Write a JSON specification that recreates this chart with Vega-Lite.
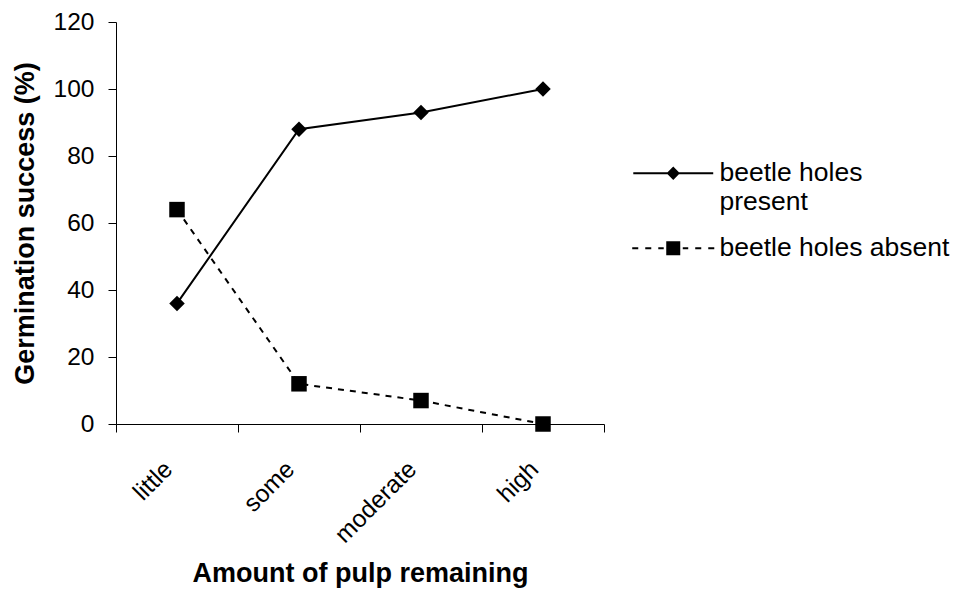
{
  "$schema": "https://vega.github.io/schema/vega-lite/v6.json",
  "width": 488,
  "height": 402,
  "autosize": {"type": "none"},
  "padding": {"left": 116, "top": 22, "right": 357, "bottom": 177},
  "background": "white",
  "config": {
    "view": {"stroke": null},
    "font": "Liberation Sans",
    "axis": {"domainColor": "#000000", "tickColor": "#000000", "labelColor": "#000000", "titleColor": "#000000", "grid": false}
  },
  "data": {
    "values": [
      {"pulp": "little", "series": "beetle holes present", "germ": 36},
      {"pulp": "some", "series": "beetle holes present", "germ": 88},
      {"pulp": "moderate", "series": "beetle holes present", "germ": 93},
      {"pulp": "high", "series": "beetle holes present", "germ": 100},
      {"pulp": "little", "series": "beetle holes absent", "germ": 64},
      {"pulp": "some", "series": "beetle holes absent", "germ": 12},
      {"pulp": "moderate", "series": "beetle holes absent", "germ": 7},
      {"pulp": "high", "series": "beetle holes absent", "germ": 0}
    ]
  },
  "encoding": {
    "x": {
      "field": "pulp", "type": "ordinal", "bandPosition": 0.5,
      "sort": ["little", "some", "moderate", "high"],
      "scale": {"type": "band", "paddingInner": 0, "paddingOuter": 0},
      "axis": {
        "title": "Amount of pulp remaining",
        "tickBand": "extent",
        "tickSize": 8,
        "labelAngle": -45,
        "labelAlign": "right",
        "labelBaseline": "top",
        "labelFontSize": 24.5,
        "labelPadding": 25,
        "labelOffset": -17,
        "titleFontSize": 27,
        "titleFontWeight": "bold",
        "titlePadding": 14
      }
    },
    "y": {
      "field": "germ", "type": "quantitative",
      "scale": {"domain": [0, 120], "nice": false},
      "axis": {
        "title": "Germination success (%)",
        "values": [0, 20, 40, 60, 80, 100, 120],
        "tickSize": 8,
        "labelFontSize": 24.5,
        "labelPadding": 14,
        "titleFontSize": 27,
        "titleFontWeight": "bold",
        "titlePadding": 14
      }
    }
  },
  "layer": [
    {
      "transform": [{"filter": "datum.series == 'beetle holes present'"}],
      "mark": {"type": "line", "color": "black", "strokeWidth": 2},
      "encoding": {}
    },
    {
      "transform": [{"filter": "datum.series == 'beetle holes absent'"}],
      "mark": {"type": "line", "color": "black", "strokeWidth": 2, "strokeDash": [6, 6]},
      "encoding": {}
    },
    {
      "mark": {"type": "point", "filled": true, "fill": "black", "stroke": "black", "strokeWidth": 2, "opacity": 0},
      "encoding": {
        "shape": {
          "field": "series", "type": "nominal",
          "scale": {"domain": ["beetle holes present", "beetle holes absent"], "range": ["M-5.71,-0.143H5.71V0.143H-5.71Z M0,-0.97L0.95,0L0,0.97L-0.95,0Z", "M-5.86,-0.143H-5V0.143H-5.86Z M-4,-0.143H-3.14V0.143H-4Z M-2.14,-0.143H-1.36V0.143H-2.14Z M1.36,-0.143H2.14V0.143H1.36Z M3.14,-0.143H4V0.143H3.14Z M5,-0.143H5.86V0.143H5Z M-1,-1H1V1H-1Z"]},
          "legend": {
            "title": null,
            "orient": "none",
            "legendX": 544,
            "legendY": 138,
            "labelFontSize": 26.5,
            "labelColor": "black",
            "labelOffset": 33,
            "labelLimit": 400,
            "symbolSize": 196,
            "symbolOpacity": 1,
            "symbolFillColor": "black",
            "symbolStrokeColor": "black",
            "symbolStrokeWidth": 2,
            "rowPadding": 19,
            "labelExpr": "datum.label == 'beetle holes present' ? ['beetle holes', 'present'] : datum.label"
          }
        }
      }
    },
    {
      "transform": [{"filter": "datum.series == 'beetle holes present'"}],
      "mark": {"type": "point", "filled": true, "color": "black", "opacity": 1, "shape": "diamond", "size": 240}
    },
    {
      "transform": [{"filter": "datum.series == 'beetle holes absent'"}],
      "mark": {"type": "point", "filled": true, "color": "black", "opacity": 1, "shape": "square", "size": 240}
    }
  ]
}
